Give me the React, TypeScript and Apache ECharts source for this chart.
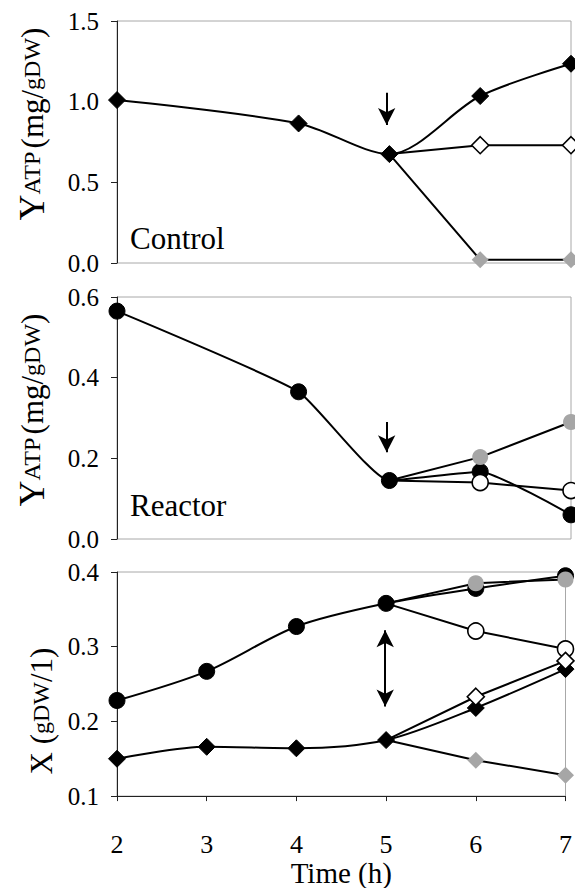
import React, { useEffect, useRef } from "react";
import * as echarts from "echarts";

// ---- data ----
const timeTicks = [2, 3, 4, 5, 6, 7];
const branchX = [5, 6, 7];

// Control panel (Y_ATP, mg/gDW)
const ctrlMainX = [2, 4, 5, 6, 7];
const ctrlMainY = [1.01, 0.865, 0.675, 1.035, 1.235];
const ctrlOpenY = [0.675, 0.73, 0.73];
const ctrlGrayY = [0.675, 0.02, 0.02];

// Reactor panel (Y_ATP, mg/gDW)
const reacMainX = [2, 4, 5, 6, 7];
const reacMainY = [0.565, 0.365, 0.145, 0.167, 0.06];
const reacOpenY = [0.145, 0.14, 0.12];
const reacGrayY = [0.145, 0.203, 0.29];

// Biomass panel (X, gDW/l)
const bioX = [2, 3, 4, 5, 6, 7];
const bioCircleY = [0.228, 0.267, 0.327, 0.358, 0.378, 0.395];
const bioCircleOpenY = [0.358, 0.321, 0.297];
const bioCircleGrayY = [0.358, 0.385, 0.39];
const bioDiamondY = [0.15, 0.166, 0.164, 0.175, 0.218, 0.27];
const bioDiamondOpenY = [0.175, 0.233, 0.281];
const bioDiamondGrayY = [0.175, 0.148, 0.128];

// axis ranges
const yRange1 = { min: 0, max: 1.5, interval: 0.5 };
const yRange2 = { min: 0, max: 0.6, interval: 0.2 };
const yRange3 = { min: 0.1, max: 0.4, interval: 0.1 };

// arrows (x, yTop, yTip)
const arrow1 = [4.97, 1.055, 0.855];
const arrow2 = [4.97, 0.29, 0.215];
const arrow3 = [4.99, 0.322, 0.22];

const FONT = "Liberation Serif";

export default function App() {
  const ref = useRef<HTMLDivElement>(null);
  useEffect(() => {
    document.body.style.margin = "0";
    const chart = echarts.init(ref.current!, null, { renderer: "svg" });

    const pair = (xs: number[], ys: number[], skipFirst = false) =>
      xs.map((x, i) =>
        skipFirst && i === 0 ? { value: [x, ys[i]], symbol: "none" } : { value: [x, ys[i]] }
      );

    const filled = { color: "#000", borderColor: "#000", borderWidth: 1 };
    const open = { color: "#fff", borderColor: "#000", borderWidth: 1.6 };
    const gray = { color: "#a6a6a6", borderColor: "#a6a6a6", borderWidth: 0 };
    const line = { color: "#000", width: 2 };

    const mk = (
      idx: number,
      data: any[],
      symbol: string,
      size: number,
      itemStyle: any,
      smooth: number | boolean,
      z: number,
      extra: any = {}
    ) => ({
      type: "line",
      xAxisIndex: idx,
      yAxisIndex: idx,
      data,
      symbol,
      symbolSize: size,
      itemStyle,
      lineStyle: line,
      smooth,
      clip: false,
      z,
      ...extra,
    });

    const arrowLine = (a: number[], both: boolean) => ({
      markLine: {
        silent: true,
        symbol: both ? ["arrow", "arrow"] : ["none", "arrow"],
        symbolSize: [13, 17],
        lineStyle: { color: "#000", width: 2, type: "solid" },
        label: { show: false },
        data: [[{ coord: [a[0], a[1]] }, { coord: [a[0], a[2]] }]],
      },
    });

    const grids = [
      { left: 117, right: 4, top: 21, height: 242 },
      { left: 117, right: 4, top: 297, height: 242 },
      { left: 117, right: 4, top: 572, height: 240 },
    ].map((g) => ({ ...g, show: true, borderColor: "#a8a8a8", borderWidth: 1 }));

    const yAxis = (idx: number, r: any) => ({
      type: "value",
      gridIndex: idx,
      min: r.min,
      max: r.max,
      interval: r.interval,
      axisLine: { show: true, lineStyle: { color: "#222", width: 1 } },
      axisTick: { show: true, length: 6, lineStyle: { color: "#222" } },
      splitLine: { show: false },
      axisLabel: {
        fontFamily: FONT,
        fontSize: 25,
        color: "#000",
        margin: 18,
        formatter: (v: number) => v.toFixed(1),
      },
    });

    const xAxis = (idx: number, showLabels: boolean) => ({
      type: "value",
      gridIndex: idx,
      min: timeTicks[0],
      max: timeTicks[timeTicks.length - 1],
      interval: 1,
      axisLine: { show: showLabels, onZero: false, lineStyle: { color: "#222", width: 1 } },
      axisTick: { show: showLabels, length: 5, lineStyle: { color: "#222" } },
      splitLine: { show: false },
      axisLabel: {
        show: showLabels,
        fontFamily: FONT,
        fontSize: 26,
        color: "#000",
        margin: 35,
      },
      ...(showLabels
        ? {
            name: "Time (h)",
            nameLocation: "middle",
            nameGap: 42,
            nameTextStyle: { fontFamily: FONT, fontSize: 29, color: "#000" },
          }
        : {}),
    });

    const yTitleRich = {
      big: { fontFamily: FONT, fontSize: 36, fill: "#000", color: "#000" },
      med: { fontFamily: FONT, fontSize: 31, fill: "#000", color: "#000" },
      sm: { fontFamily: FONT, fontSize: 24, fill: "#000", color: "#000" },
    };

    const option: any = {
      animation: false,
      backgroundColor: "#fff",
      grid: grids,
      xAxis: [xAxis(0, false), xAxis(1, false), xAxis(2, true)],
      yAxis: [yAxis(0, yRange1), yAxis(1, yRange2), yAxis(2, yRange3)],
      series: [
        // Control
        mk(0, pair(ctrlMainX, ctrlMainY), "diamond", 17, filled, 0.3, 3, arrowLine(arrow1, false)),
        mk(0, pair(branchX, ctrlOpenY, true), "diamond", 17, open, false, 4),
        mk(0, pair(branchX, ctrlGrayY, true), "diamond", 17, gray, false, 4),
        // Reactor
        mk(1, pair(reacMainX, reacMainY), "circle", 16, filled, 0.15, 3, arrowLine(arrow2, false)),
        mk(1, pair(branchX, reacOpenY, true), "circle", 16, open, false, 4),
        mk(1, pair(branchX, reacGrayY, true), "circle", 16, gray, false, 4),
        // Biomass
        mk(2, pair(bioX, bioCircleY), "circle", 16, filled, 0.3, 3, arrowLine(arrow3, true)),
        mk(2, pair(branchX, bioCircleOpenY, true), "circle", 16, open, false, 4),
        mk(2, pair(branchX, bioCircleGrayY, true), "circle", 16, gray, false, 4),
        mk(2, pair(bioX, bioDiamondY), "diamond", 17, filled, 0.3, 3),
        mk(2, pair(branchX, bioDiamondOpenY, true), "diamond", 17, open, false, 4),
        mk(2, pair(branchX, bioDiamondGrayY, true), "diamond", 17, gray, false, 4),
      ],
      graphic: [
        {
          type: "text",
          left: 130,
          top: 223,
          style: { text: "Control", fontFamily: FONT, fontSize: 31, fill: "#000" },
        },
        {
          type: "text",
          left: 130,
          top: 490,
          style: { text: "Reactor", fontFamily: FONT, fontSize: 31, fill: "#000" },
        },
        {
          type: "text",
          x: 32,
          y: 124,
          rotation: Math.PI / 2,
          style: {
            text: "{big|Y}{sm|ATP} {med|(mg/}{sm|gDW}{med|)}",
            rich: yTitleRich,
            align: "center",
            verticalAlign: "middle",
            fill: "#000",
          },
        },
        {
          type: "text",
          x: 32,
          y: 410,
          rotation: Math.PI / 2,
          style: {
            text: "{big|Y}{sm|ATP} {med|(mg/}{sm|gDW}{med|)}",
            rich: yTitleRich,
            align: "center",
            verticalAlign: "middle",
            fill: "#000",
          },
        },
        {
          type: "text",
          x: 41,
          y: 711,
          rotation: Math.PI / 2,
          style: {
            text: "{med|X (}{sm|gDW}{med|/1)}",
            rich: yTitleRich,
            align: "center",
            verticalAlign: "middle",
            fill: "#000",
          },
        },
      ],
    };

    chart.setOption(option);
    return () => chart.dispose();
  }, []);

  return <div ref={ref} style={{ width: 575, height: 888 }} />;
}
